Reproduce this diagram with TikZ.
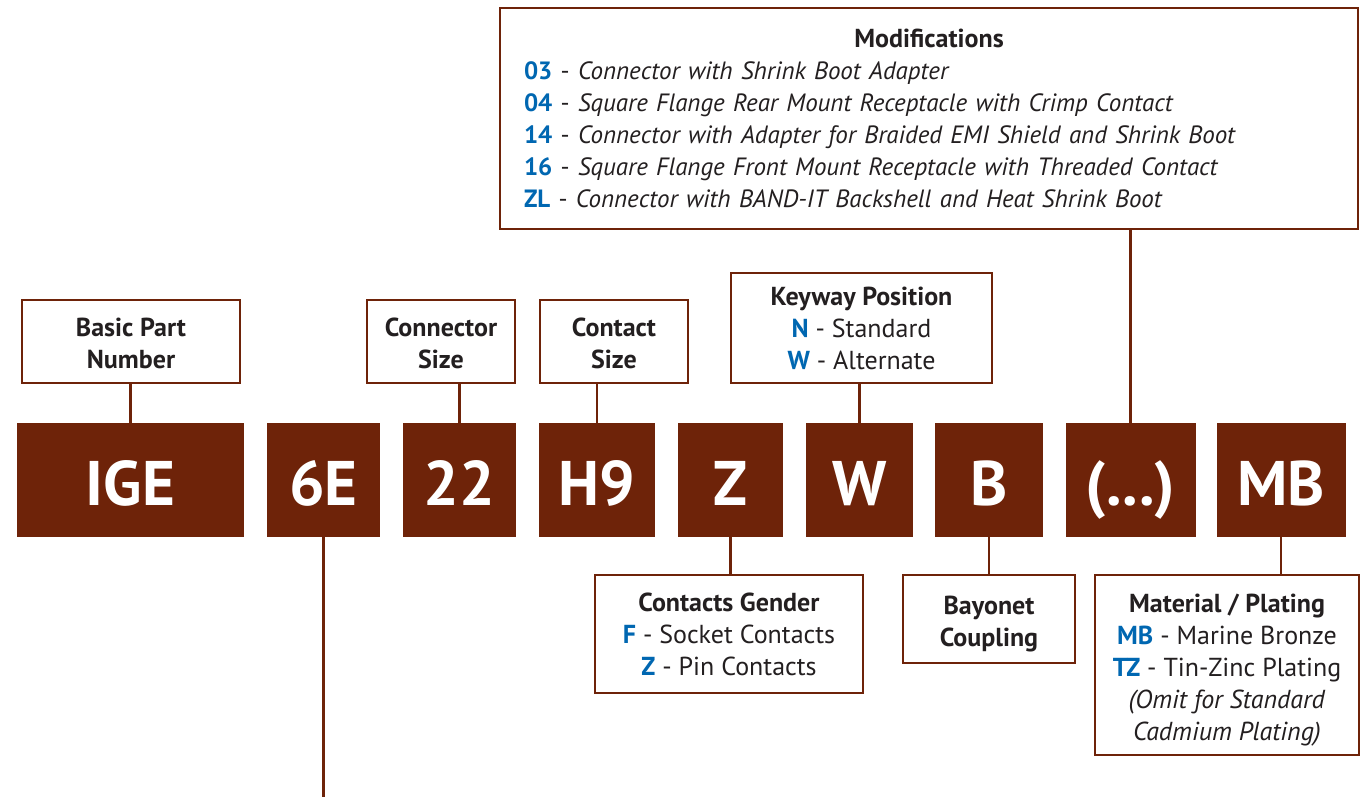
\documentclass[tikz,border=0pt]{standalone}
\usepackage{fontspec}
\setmainfont{PT Sans}
\usetikzlibrary{positioning}
\definecolor{rust}{HTML}{6E2309}
\definecolor{codeblue}{HTML}{0067B1}
\definecolor{ink}{HTML}{231F20}
\newcommand{\opt}[1]{\textbf{\color{codeblue}#1}}

\begin{document}
\begin{tikzpicture}[x=1pt,y=-1pt,
    codebox/.style={fill=rust, text=white, font=\fontsize{63}{63}\selectfont\bfseries,
      inner sep=0pt, minimum height=114pt, text height=51pt, text depth=0pt},
    labelbox/.style={draw=rust, line width=2.5pt, fill=white, text=ink, align=center,
      font=\fontsize{26}{32}\selectfont, inner sep=0pt},
    link/.style={draw=rust, line width=2.5pt}]
    \useasboundingbox (0,0) rectangle (1365,797);
    % part number fields
    \node[codebox, minimum width=227pt] (ige) at (130.5,480) {IGE};
    \node[codebox, minimum width=113pt] (sixe) at (323.5,480) {6E};
    \node[codebox, minimum width=113pt] (size) at (459.5,480) {22};
    \node[codebox, minimum width=116pt] (insert) at (597,480) {H9};
    \node[codebox, minimum width=105pt] (gender) at (730.5,480) {Z};
    \node[codebox, minimum width=107pt] (keyway) at (859.5,480) {W};
    \node[codebox, minimum width=108pt] (coupling) at (989,480) {B};
    \node[codebox, minimum width=130pt] (modif) at (1130.5,480) {(...)};
    \node[codebox, minimum width=129pt] (plating) at (1281,480) {MB};
    % labels above
    \node[labelbox, minimum width=218pt, minimum height=83pt] (basiclbl) at (131,341.5)
      {\rule{0pt}{23pt}\textbf{Basic Part}\\\textbf{Number}};
    \node[labelbox, minimum width=148pt, minimum height=83pt] (sizelbl) at (441,341.5)
      {\rule{0pt}{23pt}\textbf{Connector}\\\textbf{Size}};
    \node[labelbox, minimum width=148pt, minimum height=83pt] (insertlbl) at (614,341.5)
      {\rule{0pt}{23pt}\textbf{Contact}\\\textbf{Size}};
    \node[labelbox, minimum width=261pt, minimum height=110pt] (keywaylbl) at (861.5,328)
      {\textbf{Keyway Position}\\\opt{N} - Standard\\\opt{W} - Alternate};
    \node[labelbox, minimum width=858pt, minimum height=221pt, text width=810pt, align=left,
      font=\fontsize{25}{32}\selectfont] (modiflbl) at (929,118.5)
      {\makebox[\linewidth][c]{\fontsize{26}{32}\selectfont\textbf{Modifications}}\\
       \opt{03} - \textit{Connector with Shrink Boot Adapter}\\
       \opt{04} - \textit{Square Flange Rear Mount Receptacle with Crimp Contact}\\
       \opt{14} - \textit{Connector with Adapter for Braided EMI Shield and Shrink Boot}\\
       \opt{16} - \textit{Square Flange Front Mount Receptacle with Threaded Contact}\\
       \opt{ZL} - \textit{Connector with BAND-IT Backshell and Heat Shrink Boot}};
    % labels below
    \node[labelbox, minimum width=268pt, minimum height=118pt] (genderlbl) at (729,634)
      {\textbf{Contacts Gender}\\\opt{F} - Socket Contacts\\\opt{Z} - Pin Contacts};
    \node[labelbox, minimum width=172pt, minimum height=88pt] (couplinglbl) at (989,619)
      {\rule{0pt}{29pt}\textbf{Bayonet}\\\textbf{Coupling}};
    \node[labelbox, minimum width=264pt, minimum height=180pt] (platinglbl) at (1227,665)
      {\rule{0pt}{29pt}\textbf{Material / Plating}\\\opt{MB} - Marine Bronze\\\opt{TZ} - Tin-Zinc Plating\\
       \textit{(Omit for Standard}\\\textit{Cadmium Plating)}};
    \coordinate (tail) at (323.5,797);
    % connectors
    \draw[link] (ige.north) -- (ige.north |- basiclbl.south);
    \draw[link] (size.north) -- (size.north |- sizelbl.south);
    \draw[link] (insert.north) -- (insert.north |- insertlbl.south);
    \draw[link] (keyway.north) -- (keyway.north |- keywaylbl.south);
    \draw[link] (modif.north) -- (modif.north |- modiflbl.south);
    \draw[link] (gender.south) -- (gender.south |- genderlbl.north);
    \draw[link] (coupling.south) -- (coupling.south |- couplinglbl.north);
    \draw[link] (plating.south) -- (plating.south |- platinglbl.north);
    \draw[link] (sixe.south) -- (tail);
\end{tikzpicture}
\end{document}
